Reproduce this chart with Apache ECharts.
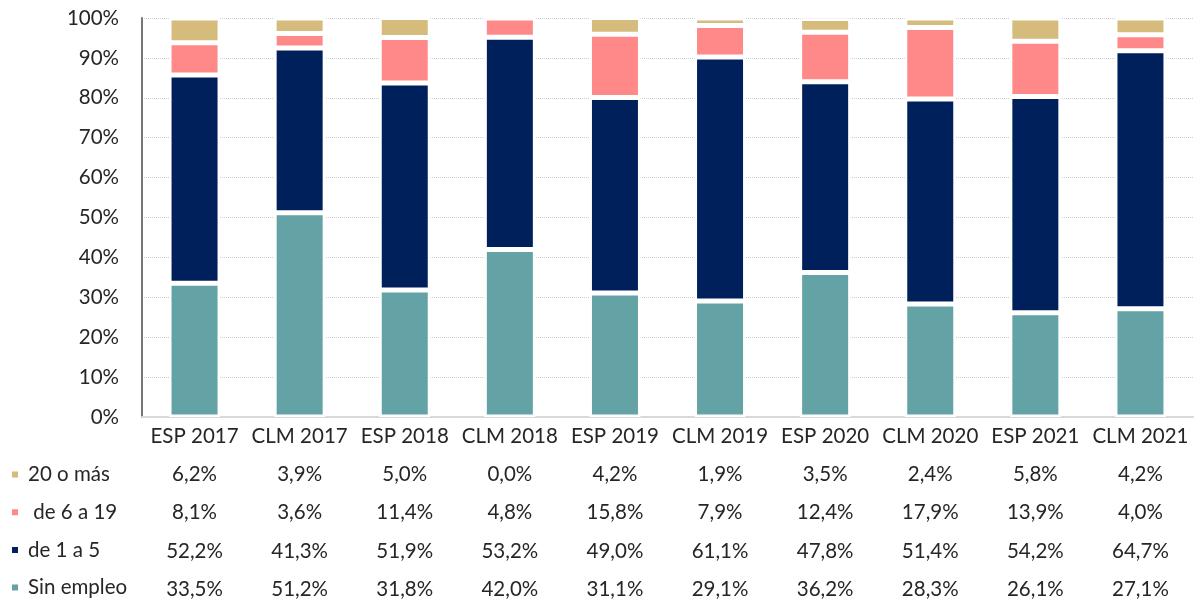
<!DOCTYPE html>
<html>
<head>
<meta charset="utf-8">
<script src="https://cdn.jsdelivr.net/npm/echarts@6/dist/echarts.min.js"></script>
<style>
  html, body { margin: 0; padding: 0; background: #fff; }
  #chart { width: 1196px; height: 600px; }
</style>
</head>
<body>
<div id="chart"></div>
<script>
// categories + series values (percent)
const categories = ['ESP 2017', 'CLM 2017', 'ESP 2018', 'CLM 2018', 'ESP 2019', 'CLM 2019', 'ESP 2020', 'CLM 2020', 'ESP 2021', 'CLM 2021'];
const sinEmpleo = [33.5, 51.2, 31.8, 42.0, 31.1, 29.1, 36.2, 28.3, 26.1, 27.1];
const de1a5 = [52.2, 41.3, 51.9, 53.2, 49.0, 61.1, 47.8, 51.4, 54.2, 64.7];
const de6a19 = [8.1, 3.6, 11.4, 4.8, 15.8, 7.9, 12.4, 17.9, 13.9, 4.0];
const veinteOMas = [6.2, 3.9, 5.0, 0.0, 4.2, 1.9, 3.5, 2.4, 5.8, 4.2];

const seriesNames = ['Sin empleo', 'de 1 a 5', ' de 6 a 19', '20 o más'];
const colors = ['#63a2a5', '#00205c', '#ff8888', '#d5bb7c'];

const fontFamily = 'Lato, "Open Sans", sans-serif';
const textColor = '#262626';
const fontSize = 20.5;

const fmt = v => v.toFixed(1).replace('.', ',') + '%';

const chart = echarts.init(document.getElementById('chart'));

const mkSeries = (name, data, i) => ({
    name: name,
    type: 'bar',
    stack: 'total',
    barWidth: 51,
    data: data,
    itemStyle: {
        color: colors[i],
        borderColor: '#fff',
        borderWidth: 2.5
    }
});

const option = {
    animation: false,
    textStyle: { fontFamily: fontFamily },
    grid: { left: 142, right: 3, top: 18, bottom: 183, outerBoundsMode: 'none', containLabel: false },
    legend: {
        orient: 'vertical',
        left: 10,
        top: 464,
        height: 140,
        padding: 0,
        itemWidth: 8,
        itemHeight: 8,
        itemGap: 16.7,
        icon: 'rect',
        data: ['20 o más', ' de 6 a 19', 'de 1 a 5', 'Sin empleo'],
        textStyle: { fontSize: fontSize, color: textColor, lineHeight: 20, padding: [0, 0, 0, 4], fontFamily: fontFamily }
    },
    xAxis: {
        type: 'category',
        data: categories,
        axisLine: { lineStyle: { color: '#d9d9d9', width: 2 } },
        axisTick: { show: false },
        axisLabel: {
            margin: 0,
            interval: 0,
            fontSize: fontSize,
            color: textColor,
            lineHeight: 38.3,
            fontFamily: fontFamily,
            // data table rows under each category
            formatter: (val, idx) => [
                val,
                fmt(veinteOMas[idx]),
                fmt(de6a19[idx]),
                fmt(de1a5[idx]),
                fmt(sinEmpleo[idx])
            ].join('\n')
        }
    },
    yAxis: {
        type: 'value',
        min: 0,
        max: 100,
        interval: 10,
        axisLine: { show: true, lineStyle: { color: '#767676', width: 2 } },
        axisTick: { show: false },
        splitLine: { lineStyle: { color: '#cfcfcf', type: 'dotted', width: 1 } },
        axisLabel: {
            margin: 23,
            fontSize: fontSize,
            color: textColor,
            fontFamily: fontFamily,
            formatter: '{value}%'
        }
    },
    series: [
        mkSeries(seriesNames[0], sinEmpleo, 0),
        mkSeries(seriesNames[1], de1a5, 1),
        mkSeries(seriesNames[2], de6a19, 2),
        mkSeries(seriesNames[3], veinteOMas, 3)
    ]
};

chart.setOption(option);
</script>
</body>
</html>
